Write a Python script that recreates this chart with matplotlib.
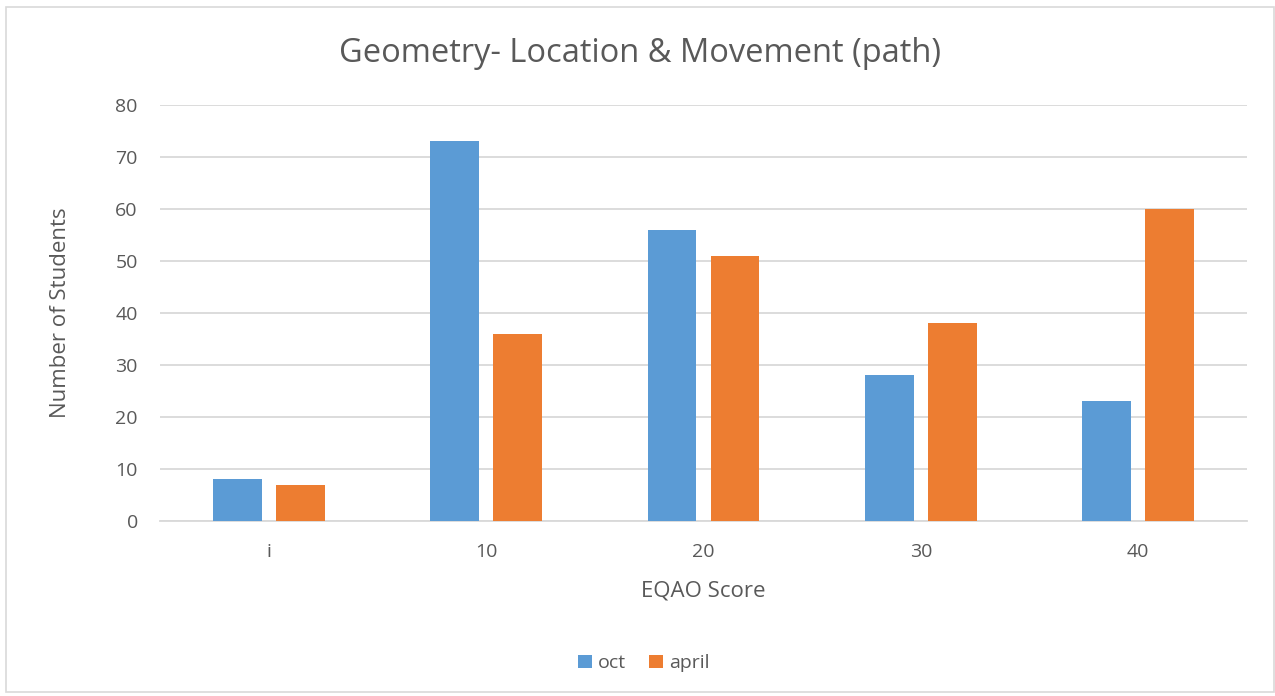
import matplotlib
matplotlib.use("Agg")
import matplotlib.pyplot as plt
import numpy as np
from matplotlib.patches import Rectangle

plt.rcParams['font.family'] = ['Open Sans', 'DejaVu Sans']

# score buckets and student counts
categories = ['i', '10', '20', '30', '40']
oct_counts = [8, 73, 56, 28, 23]
april_counts = [7, 36, 51, 38, 60]

text_color = '#595959'
grid_color = '#D9D9D9'

fig = plt.figure(figsize=(12.75, 6.96), dpi=100)
ax = fig.add_axes([0.1255, 0.2514, 0.8525, 0.5976])

x = np.arange(len(categories))
width = 0.225
ax.bar(x - 0.145, oct_counts, width, color='#5B9BD5', label='oct', zorder=3)
ax.bar(x + 0.145, april_counts, width, color='#ED7D31', label='april', zorder=3)

ax.set_xlim(-0.5, len(categories) - 0.5)
ax.set_ylim(0, 80)
ax.set_yticks(range(0, 81, 10))
ax.set_xticks(x)
ax.set_xticklabels(categories)
ax.yaxis.grid(True, color=grid_color, linewidth=1.3, zorder=0)
ax.tick_params(axis='both', length=0, labelsize=14, colors=text_color)
ax.tick_params(axis='x', pad=16)
ax.tick_params(axis='y', pad=16)
for side in ['top', 'right', 'left']:
    ax.spines[side].set_visible(False)
ax.spines['bottom'].set_color(grid_color)
ax.spines['bottom'].set_linewidth(1.3)

ax.set_xlabel('EQAO Score', fontsize=16, color=text_color, labelpad=14)
ax.set_ylabel('Number of Students', fontsize=16, color=text_color, labelpad=32)
fig.text(0.502, 0.923, 'Geometry- Location & Movement (path)', fontsize=23.5,
         color=text_color, ha='center', va='center')

leg = fig.legend(loc='center', bbox_to_anchor=(0.505, 0.047), ncol=2, frameon=False,
                 fontsize=14, handlelength=0.7, handleheight=0.7, columnspacing=1.2,
                 handletextpad=0.3)
for t in leg.get_texts():
    t.set_color(text_color)

# light frame round the chart
fig.patches.append(Rectangle((0.005, 0.006), 0.994, 0.984, transform=fig.transFigure,
                             fill=False, edgecolor=grid_color, linewidth=1.2))

fig.savefig('out.png', dpi=100)
